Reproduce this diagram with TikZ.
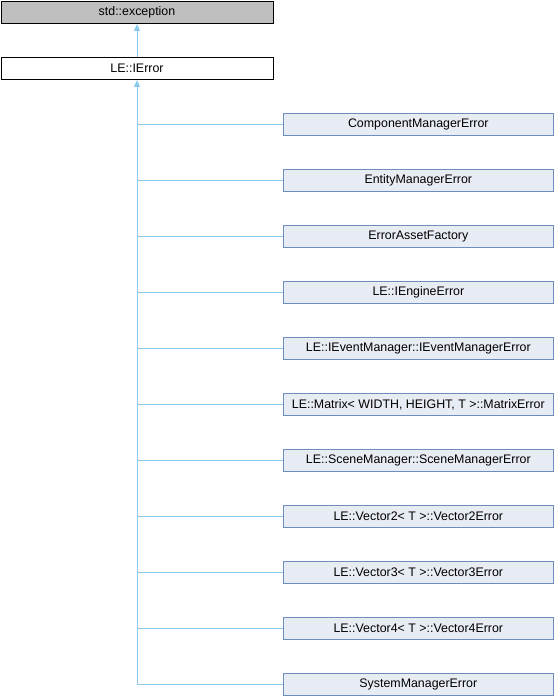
\documentclass[tikz,border=0pt]{standalone}
\usepackage{fontspec}
\setmainfont{Liberation Sans}
\usetikzlibrary{arrows.meta}
\definecolor{edgeblue}{RGB}{140,200,236}
\definecolor{boxfill}{RGB}{232,236,244}
\definecolor{boxline}{RGB}{108,142,190}
\definecolor{basefill}{RGB}{191,191,191}
\tikzset{
  classbox/.style={draw=boxline, fill=boxfill, line width=0.75pt, anchor=north west,
    minimum width=203pt, minimum height=17pt, inner sep=0pt, font=\fontsize{9.3}{11}\selectfont},
  basebox/.style={classbox, draw=black, fill=basefill, minimum width=204pt},
  rootbox/.style={classbox, draw=black, fill=white, minimum width=204pt},
  inherit/.style={draw=edgeblue, line width=0.75pt, -{Triangle[width=4.5pt,length=5pt]}},
}
\begin{document}
\begin{tikzpicture}[x=0.75pt, y=-0.75pt]
    \useasboundingbox (0,0) rectangle (554,696);

    % base classes
    \node[basebox] (exc) at (0.5,0.5) {std::exception};
    \node[rootbox] (ierr) at (0.5,56.5) {LE::IError};
    \draw[inherit] (ierr.north) -- (exc.south);

    % derived classes
    \foreach \name/\txt [count=\i from 0] in {
        cme/ComponentManagerError,
        eme/EntityManagerError,
        eaf/ErrorAssetFactory,
        iee/LE::IEngineError,
        iem/LE::IEventManager::IEventManagerError,
        mat/{LE::Matrix< WIDTH, HEIGHT, T >::MatrixError},
        sme/LE::SceneManager::SceneManagerError,
        v2e/LE::Vector2< T >::Vector2Error,
        v3e/LE::Vector3< T >::Vector3Error,
        v4e/LE::Vector4< T >::Vector4Error,
        sys/SystemManagerError}
    {
        \node[classbox] (\name) at (282.5,112.5+56*\i) {\txt};
    }

    % trunk and branches
    \coordinate (trunk) at (ierr.south |- sys.west);
    \draw[inherit] (trunk) -- (ierr.south);
    \foreach \name in {cme,eme,eaf,iee,iem,mat,sme,v2e,v3e,v4e,sys}
        \draw[draw=edgeblue, line width=0.75pt] (\name.west) -- (ierr.south |- \name.west);

\end{tikzpicture}
\end{document}
